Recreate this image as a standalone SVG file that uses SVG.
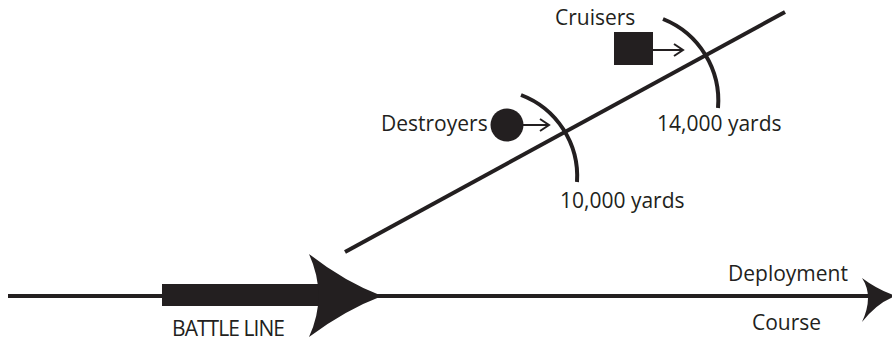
<svg xmlns="http://www.w3.org/2000/svg" width="892" height="341" viewBox="0 0 892 341">
<style>
.ln{stroke:#231f20;stroke-width:4;fill:none}
.thin{stroke:#231f20;stroke-width:2;fill:none}
.f{fill:#231f20}
text{font-family:"Open Sans","Liberation Sans",Arial,sans-serif;font-size:21px;fill:#231f20}
</style>
<rect width="892" height="341" fill="#fff"/>
<g id="connectors">
<line class="ln" x1="8" y1="296" x2="874" y2="296"/>
<path class="f" d="M862,278 Q878,290 896,296 Q878,302 862,322 Q874,296 862,278 Z"/>
<line class="ln" x1="345" y1="252" x2="785" y2="12"/>
<path class="ln" d="M521,95 A87,87 0 0 1 577,182"/>
<path class="ln" d="M663,19 A88,88 0 0 1 718,108"/>
<line class="thin" x1="523" y1="125" x2="549" y2="125"/>
<polyline class="thin" points="540,119 549,125 540,131"/>
<line class="thin" x1="653" y1="50" x2="683" y2="50"/>
<polyline class="thin" points="674,44 683,50 674,56"/>
</g>
<g id="battle-line">
<rect class="f" x="162" y="284" width="162" height="22"/>
<path class="f" d="M309,254 Q345,282 382,296 Q345,310 309,337 Q328,296 309,254 Z"/>
<text x="172" y="336" textLength="113">BATTLE LINE</text>
</g>
<g id="destroyers">
<circle class="f" cx="507" cy="125" r="16.5"/>
<text x="381" y="131">Destroyers</text>
</g>
<g id="cruisers">
<rect class="f" x="614" y="32" width="39" height="33"/>
<text x="555" y="25">Cruisers</text>
</g>
<g id="range-10000"><text x="560" y="208">10,000 yards</text></g>
<g id="range-14000"><text x="657" y="131">14,000 yards</text></g>
<g id="deployment-course">
<text x="728" y="281">Deployment</text>
<text x="752" y="330">Course</text>
</g>
</svg>
